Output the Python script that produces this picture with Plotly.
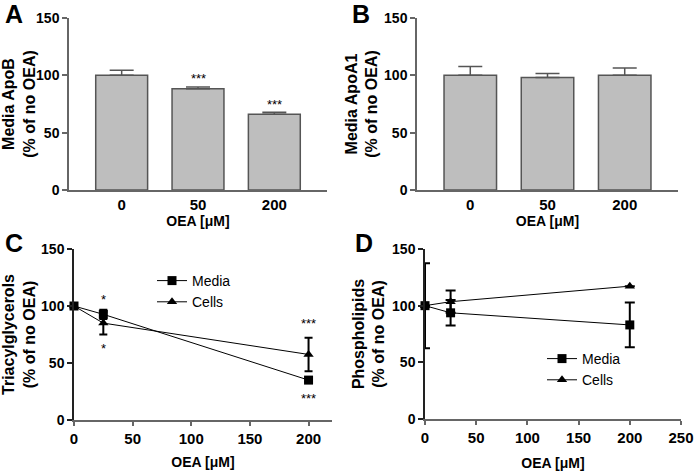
import plotly.graph_objects as go

# ---------------- data ----------------
bar_cats = ["0", "50", "200"]
apoB_vals = [100, 88.3, 66.0]
apoB_err = [4.5, 1.5, 1.8]
apoA1_vals = [100, 98.2, 100]
apoA1_err = [7.8, 3.3, 6.5]

oea_x = [0, 25, 200]
tg_media = [100, 92.7, 35.0]
tg_media_err = [1.5, 4.0, 1.5]
tg_cells = [100, 85.0, 57.5]
tg_cells_err = [1.5, 10.0, 14.7]

pl_media = [100, 93.7, 83.0]
pl_media_err = [37.5, 11.3, 19.8]
pl_cells = [100, 103.5, 117.2]
pl_cells_err = [0, 9.8, 0]

sig_A = [(1, 97, "***"), (2, 75, "***")]
sig_C = [(25, 106, "*"), (25, 63, "*"), (200, 85, "***"), (200, 19, "***")]

W, H = 697, 471
FONT = "Liberation Sans, Arial, sans-serif"
AX = "#666666"
DARK = "#222222"
BAR = "#bebebe"

def px_x(a, b):
    return [a / W, b / W]

def px_y(top, bottom):
    return [1 - bottom / H, 1 - top / H]

fig = go.Figure()

# Panel A
fig.add_trace(go.Bar(x=bar_cats, y=apoB_vals, width=0.68,
                     marker=dict(color=BAR, line=dict(color="#555555", width=1.5)),
                     error_y=dict(type="data", symmetric=False, array=apoB_err,
                                  arrayminus=[0, 0, 0], color="#555555", thickness=1.5, width=12),
                     xaxis="x", yaxis="y", showlegend=False))
# Panel B
fig.add_trace(go.Bar(x=bar_cats, y=apoA1_vals, width=0.68,
                     marker=dict(color=BAR, line=dict(color="#555555", width=1.5)),
                     error_y=dict(type="data", symmetric=False, array=apoA1_err,
                                  arrayminus=[0, 0, 0], color="#555555", thickness=1.5, width=12),
                     xaxis="x2", yaxis="y2", showlegend=False))

# Panel C
fig.add_trace(go.Scatter(x=oea_x, y=tg_media, name="Media", mode="lines+markers",
                         line=dict(color="black", width=1),
                         marker=dict(symbol="square", size=9, color="black"),
                         error_y=dict(type="data", array=tg_media_err, color="black",
                                      thickness=2, width=4),
                         cliponaxis=False, xaxis="x3", yaxis="y3", legend="legend"))
fig.add_trace(go.Scatter(x=oea_x, y=tg_cells, name="Cells", mode="lines+markers",
                         line=dict(color="black", width=1),
                         marker=dict(symbol="triangle-up", size=9, color="black"),
                         error_y=dict(type="data", array=tg_cells_err, color="black",
                                      thickness=2, width=4),
                         cliponaxis=False, xaxis="x3", yaxis="y3", legend="legend"))

# Panel D
fig.add_trace(go.Scatter(x=oea_x, y=pl_media, name="Media", mode="lines+markers",
                         line=dict(color="black", width=1),
                         marker=dict(symbol="square", size=9, color="black"),
                         error_y=dict(type="data", array=pl_media_err, color="black",
                                      thickness=2, width=5),
                         cliponaxis=False, xaxis="x4", yaxis="y4", legend="legend2"))
fig.add_trace(go.Scatter(x=oea_x, y=pl_cells, name="Cells", mode="lines+markers",
                         line=dict(color="black", width=1),
                         marker=dict(symbol="triangle-up", size=9, color="black"),
                         error_y=dict(type="data", array=pl_cells_err, color="black",
                                      thickness=2, width=5),
                         cliponaxis=False, xaxis="x4", yaxis="y4", legend="legend2"))

ytickfont = dict(family=FONT, size=14, color="black", weight="bold")
xtickfont = dict(family=FONT, size=15, color="black", weight="bold")
ytitlefont = dict(family=FONT, size=16, color="black", weight="bold")
xtitlefont = dict(family=FONT, size=14, color="black", weight="bold")

def yax(domain, anchor, title, color, standoff):
    return dict(domain=domain, anchor=anchor, range=[0, 150], tickvals=[0, 50, 100, 150],
                showgrid=False, zeroline=False, showline=True, linecolor=color, linewidth=1.5,
                ticks="outside", ticklen=5, tickcolor=color, tickwidth=1.5, automargin=False,
                tickfont=ytickfont, title=dict(text=title, font=ytitlefont, standoff=standoff))

def xcat(domain, anchor):
    return dict(domain=domain, anchor=anchor, type="category", range=[-0.69, 2.69],
                showgrid=False, zeroline=False, showline=True, linecolor=AX, linewidth=1.5,
                ticks="", tickfont=xtickfont, automargin=False, ticklabelstandoff=0,
                title=dict(text="OEA [μM]", font=xtitlefont, standoff=2))

def xlin(domain, anchor, rng, vals, standoff):
    return dict(domain=domain, anchor=anchor, range=rng, tickvals=vals,
                showgrid=False, zeroline=False, showline=True, linecolor=AX, linewidth=1.5,
                ticks="outside", ticklen=4, tickcolor=AX, tickwidth=1.5, tickfont=xtickfont,
                automargin=False,
                title=dict(text="OEA [μM]", font=xtitlefont, standoff=standoff))

fig.update_layout(
    width=W, height=H, margin=dict(l=0, r=0, t=0, b=0),
    paper_bgcolor="white", plot_bgcolor="white",
    xaxis=xcat(px_x(69, 327), "y"),
    yaxis=yax(px_y(18, 190), "x", "Media ApoB<br>(% of no OEA)", AX, 2),
    xaxis2=xcat(px_x(417, 678), "y2"),
    yaxis2=yax(px_y(18, 190), "x2", "Media ApoA1<br>(% of no OEA)", AX, 2),
    xaxis3=xlin(px_x(74, 332), "y3", [0, 220], [0, 50, 100, 150, 200], 11),
    yaxis3=yax(px_y(249, 420), "x3", "Triacylglycerols<br>(% of no OEA)", DARK, 5),
    xaxis4=xlin(px_x(425, 681), "y4", [0, 250], [0, 50, 100, 150, 200, 250], 15),
    yaxis4=yax(px_y(249, 419), "x4", "Phospholipids<br>(% of no OEA)", DARK, 3),
    legend=dict(x=152 / W, y=1 - 265 / H, xanchor="left", yanchor="top",
                font=dict(family=FONT, size=14, color="black"),
                bgcolor="rgba(0,0,0,0)", tracegroupgap=0, itemwidth=30),
    legend2=dict(x=542 / W, y=1 - 343 / H, xanchor="left", yanchor="top",
                 font=dict(family=FONT, size=14, color="black"),
                 bgcolor="rgba(0,0,0,0)", tracegroupgap=0, itemwidth=30),
)

anns = []
for xc, yv, t in sig_A:
    anns.append(dict(x=xc, y=yv, xref="x", yref="y", text=t, showarrow=False,
                     font=dict(family=FONT, size=13, color="black")))
for xv, yv, t in sig_C:
    anns.append(dict(x=xv, y=yv, xref="x3", yref="y3", text=t, showarrow=False,
                     font=dict(family=FONT, size=13, color="black")))
for lab, xp, yp in [("A", 3, 14), ("B", 350, 14), ("C", 3, 243), ("D", 353, 243)]:
    anns.append(dict(x=xp / W, y=1 - yp / H, xref="paper", yref="paper", text=lab,
                     showarrow=False, xanchor="left", yanchor="middle",
                     font=dict(family=FONT, size=25, color="black", weight="bold")))
fig.update_layout(annotations=anns)

fig.write_html("out.html", config={"displayModeBar": False},
               post_script="document.body.style.margin='0';document.body.style.overflow='hidden';")
